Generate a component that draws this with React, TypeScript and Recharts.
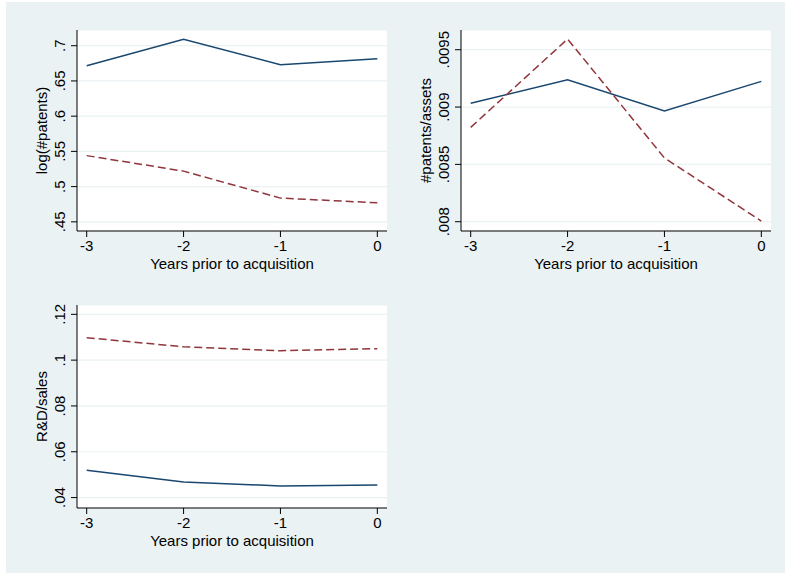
import React from 'react';
import { LineChart, Line, XAxis, YAxis, CartesianGrid, Label } from 'recharts';

const years = [-3, -2, -1, 0];
const xTicks = [-3, -2, -1, 0];

const logPatentsBlue = [0.6716, 0.709, 0.673, 0.6815];
const logPatentsRed = [0.544, 0.522, 0.4837, 0.477];
const logPatentsTicks = [0.45, 0.5, 0.55, 0.6, 0.65, 0.7];

const patentsAssetsBlue = [0.009033, 0.009238, 0.008965, 0.009224];
const patentsAssetsRed = [0.008823, 0.009593, 0.008556, 0.008006];
const patentsAssetsTicks = [0.008, 0.0085, 0.009, 0.0095];

const rdSalesBlue = [0.0519, 0.0468, 0.0451, 0.0455];
const rdSalesRed = [0.1098, 0.1058, 0.1041, 0.105];
const rdSalesTicks = [0.04, 0.06, 0.08, 0.1, 0.12];

const BLUE = '#1a476f';
const RED = '#90353b';
const BG = '#eaf2f3';
const FONT = '"Liberation Sans", Arial, Helvetica, sans-serif';
const FS = 15;
const W = 785;
const H = 577;

const fmt = (v: number) => {
  const s = String(Number(v.toPrecision(6)));
  return s.replace(/^0\./, '.').replace(/^-0\./, '-.');
};

const build = (a: number[], b: number[]) =>
  years.map((y, i) => ({ year: y, blue: a[i], red: b[i] }));

const YTick = (props: any) => {
  const { x, y, payload } = props;
  return (
    <text
      x={x}
      y={y}
      transform={`rotate(-90 ${x} ${y})`}
      textAnchor="middle"
      fontFamily={FONT}
      fontSize={FS}
      fill="#000"
    >
      {fmt(payload.value)}
    </text>
  );
};

const XTick = (props: any) => {
  const { x, y, payload } = props;
  return (
    <text x={x} y={y + 12} textAnchor="middle" fontFamily={FONT} fontSize={FS} fill="#000">
      {fmt(payload.value)}
    </text>
  );
};

type PanelProps = {
  a: number[];
  b: number[];
  yDomain: [number, number];
  yTicks: number[];
  yLabel: string;
  plotLeft: number;
  plotTop: number;
  plotRight: number;
  plotBottom: number;
};

const Panel = ({ a, b, yDomain, yTicks, yLabel, plotLeft, plotTop, plotRight, plotBottom }: PanelProps) => {
  const data = build(a, b);
  const yAxisW = 77;
  const xAxisH = 40;
  const margin = {
    top: plotTop,
    left: plotLeft - yAxisW,
    right: W - plotRight,
    bottom: H - plotBottom - xAxisH,
  };
  return (
    <div style={{ position: 'absolute', left: 0, top: 0, width: W, height: H }}>
      <LineChart width={W} height={H} data={data} margin={margin}>
        <CartesianGrid horizontal vertical={false} stroke={BG} strokeWidth={1.2} fill="#ffffff" />
        <XAxis
          dataKey="year"
          type="number"
          domain={[-3.1, 0.1]}
          ticks={xTicks}
          allowDataOverflow
          height={xAxisH}
          tickSize={6}
          tickMargin={2}
          stroke="#000"
          tickLine={{ stroke: '#000' }}
          axisLine={{ stroke: '#000' }}
          tick={<XTick />}
        >
          <Label
            content={(p: any) => {
              const vb = p.viewBox || { x: plotLeft, y: plotBottom, width: plotRight - plotLeft, height: xAxisH };
              return (
                <text
                  x={vb.x + vb.width / 2}
                  y={vb.y + 38}
                  textAnchor="middle"
                  fontFamily={FONT}
                  fontSize={FS}
                  fill="#000"
                >
                  Years prior to acquisition
                </text>
              );
            }}
          />
        </XAxis>
        <YAxis
          type="number"
          domain={yDomain}
          ticks={yTicks}
          allowDataOverflow
          width={yAxisW}
          tickSize={6}
          tickMargin={6}
          stroke="#000"
          tickLine={{ stroke: '#000' }}
          axisLine={{ stroke: '#000' }}
          tick={<YTick />}
        >
          <Label
            content={(p: any) => {
              const vb = p.viewBox || { x: plotLeft - yAxisW, y: plotTop, width: yAxisW, height: plotBottom - plotTop };
              const lx = vb.x + vb.width - 30;
              const ly = vb.y + vb.height / 2;
              return (
                <text
                  x={lx}
                  y={ly}
                  transform={`rotate(-90 ${lx} ${ly})`}
                  textAnchor="middle"
                  fontFamily={FONT}
                  fontSize={FS}
                  fill="#000"
                >
                  {yLabel}
                </text>
              );
            }}
          />
        </YAxis>
        <Line
          type="linear"
          dataKey="blue"
          stroke={BLUE}
          strokeWidth={1.5}
          dot={false}
          isAnimationActive={false}
        />
        <Line
          type="linear"
          dataKey="red"
          stroke={RED}
          strokeWidth={1.5}
          strokeDasharray="8 4"
          dot={false}
          isAnimationActive={false}
        />
      </LineChart>
    </div>
  );
};

export default function App() {
  return (
    <div style={{ position: 'absolute', left: 0, top: 0, width: W, height: H, background: '#fff', overflow: 'hidden' }}>
      <div style={{ position: 'absolute', left: 6, top: 2, width: W - 6, height: 571, background: BG }} />
      <Panel
        a={logPatentsBlue}
        b={logPatentsRed}
        yDomain={[0.437, 0.7223]}
        yTicks={logPatentsTicks}
        yLabel="log(#patents)"
        plotLeft={77}
        plotTop={30}
        plotRight={387}
        plotBottom={231}
      />
      <Panel
        a={patentsAssetsBlue}
        b={patentsAssetsRed}
        yDomain={[0.007919, 0.009672]}
        yTicks={patentsAssetsTicks}
        yLabel="#patents/assets"
        plotLeft={461}
        plotTop={30}
        plotRight={771}
        plotBottom={231}
      />
      <Panel
        a={rdSalesBlue}
        b={rdSalesRed}
        yDomain={[0.03545, 0.12407]}
        yTicks={rdSalesTicks}
        yLabel="R&D/sales"
        plotLeft={77}
        plotTop={305}
        plotRight={387}
        plotBottom={508}
      />
    </div>
  );
}
